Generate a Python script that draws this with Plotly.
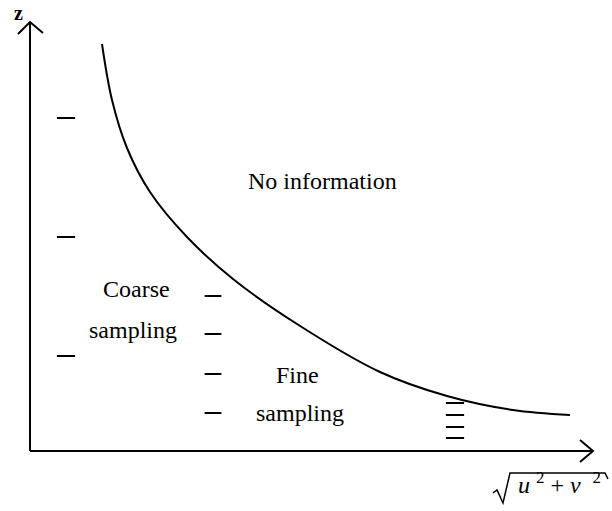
import plotly.graph_objects as go

# Boundary curve (radial frequency vs z), in chart units
curve_r = [72, 82, 97, 120, 157, 203, 267, 350, 417, 483, 540]
curve_z = [407, 351, 303, 259, 214, 172, 127, 79, 55, 41, 36]

# Sampling levels (dashes)
coarse_r = [36, 36, 36]
coarse_z = [333, 214, 95]
fine_r = [183, 183, 183, 183]
fine_z = [155, 117, 77, 38]
finest_r = [425, 425, 425, 425]
finest_z = [48, 36, 24, 13]

# Labels
labels = ["No information", "Coarse", "sampling", "Fine", "sampling"]
label_r = [292, 106, 103, 267, 270]
label_z = [270, 162, 121, 76, 38]

FONT = "Liberation Serif"

fig = go.Figure()
fig.add_trace(go.Scatter(x=curve_r, y=curve_z, mode="lines",
                         line=dict(color="black", width=2, shape="spline", smoothing=1.0),
                         hoverinfo="skip"))
for rr, zz, sz in [(coarse_r, coarse_z, 13), (fine_r, fine_z, 12), (finest_r, finest_z, 13)]:
    fig.add_trace(go.Scatter(x=rr, y=zz, mode="markers",
                             marker=dict(symbol="line-ew", size=sz,
                                         line=dict(color="black", width=2)),
                             hoverinfo="skip"))

for t, xx, yy in zip(labels, label_r, label_z):
    fig.add_annotation(x=xx, y=yy, text=t, showarrow=False,
                       font=dict(family=FONT, size=24, color="black"),
                       xanchor="center", yanchor="middle")

# z axis label
fig.add_annotation(x=-12, y=438, text="<b>z</b>", showarrow=False,
                   font=dict(family=FONT, size=20, color="black"),
                   xanchor="center", yanchor="middle")
# radial axis label
fig.add_annotation(x=486, y=-32,
                   text="<i>u</i>&nbsp;<sup>2</sup>&nbsp;+&nbsp;<i>v</i>&nbsp;&nbsp;<sup>2</sup>",
                   showarrow=False, font=dict(family=FONT, size=24, color="black"),
                   xanchor="left", yanchor="middle")

ax = dict(color="black", width=2)
# axes
fig.add_shape(type="line", x0=0, y0=0, x1=0, y1=429, line=ax)
fig.add_shape(type="line", x0=0, y0=0, x1=563, y1=0, line=ax)
# arrow heads
fig.add_shape(type="path", path="M -12,417 L 0,429 L 13,418", line=ax)
fig.add_shape(type="path", path="M 550,11 L 563,0 L 550,-11", line=ax)
# radical sign
fig.add_shape(type="path", path="M 463,-42 L 467,-39 L 473,-52 L 480,-22 L 575,-22 L 578,-28",
              line=dict(color="black", width=1.5))

fig.update_layout(
    width=612, height=511,
    margin=dict(l=0, r=0, t=0, b=0),
    paper_bgcolor="white", plot_bgcolor="white",
    showlegend=False,
    xaxis=dict(range=[-30, 582], visible=False),
    yaxis=dict(range=[-60, 451], visible=False),
)

fig.write_html("out.html",
               config={"displayModeBar": False, "staticPlot": True},
               post_script="document.body.style.margin='0';document.body.style.overflow='hidden';")
